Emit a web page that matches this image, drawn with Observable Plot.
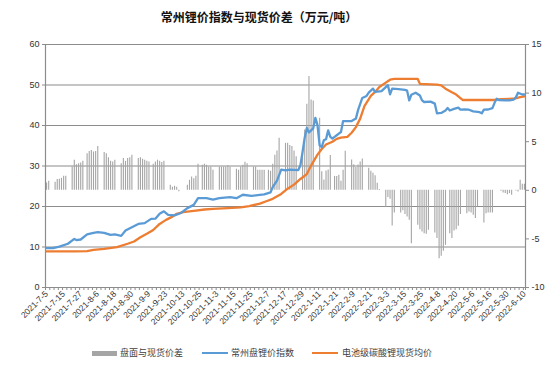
<!DOCTYPE html>
<html>
<head>
<meta charset="utf-8">
<script src="https://cdn.jsdelivr.net/npm/d3@7"></script>
<script src="https://cdn.jsdelivr.net/npm/@observablehq/plot@0.6"></script>
<style>
  html, body { margin: 0; padding: 0; background: #fff; }
  #wrap { position: relative; width: 554px; height: 369px; overflow: hidden; font-family: "Noto Sans CJK SC", sans-serif; }
  #title { position: absolute; top: 8px; left: 0; width: 518px; text-align: center; font-size: 12px; font-weight: bold; color: #111; }
  #chart { position: absolute; top: 30px; left: 0; }
  .lg { position: absolute; font-size: 9px; color: #404040; line-height: 10px; white-space: nowrap; }
  .sw { position: absolute; }
</style>
</head>
<body>
<div id="wrap">
  <div id="title">常州锂价指数与现货价差（万元/吨）</div>
  <div id="chart"></div>
  <div class="sw" style="left:92px; top:351px; width:25px; height:5px; background:#a5a5a5;"></div>
  <div class="lg" style="left:120px; top:348px;">盘面与现货价差</div>
  <div class="sw" style="left:202px; top:352px; width:26px; height:2px; background:#5b9bd5;"></div>
  <div class="lg" style="left:231px; top:348px;">常州盘锂价指数</div>
  <div class="sw" style="left:312px; top:352px; width:26px; height:2px; background:#ed7d31;"></div>
  <div class="lg" style="left:342px; top:348px;">电池级碳酸锂现货均价</div>
</div>
<script>
// X categories (trading days, index 0..224); a label every 8 trading days
const xLabels = ["2021-7-5","2021-7-15","2021-7-27","2021-8-6","2021-8-18","2021-8-30","2021-9-9","2021-9-23","2021-10-13","2021-10-25","2021-11-3","2021-11-15","2021-11-25","2021-12-7","2021-12-17","2021-12-29","2022-1-11","2022-1-21","2022-2-9","2022-2-21","2022-3-3","2022-3-15","2022-3-25","2022-4-8","2022-4-20","2022-5-6","2022-5-16","2022-5-30","2022-6-10"];

// 盘面与现货价差 (right axis, 万元/吨): groups of consecutive trading days
const spreadStart = [0,4,12,19,27,35,43,50,58,66,73,81,89,97,104,112,120,128,135,143,151,159,166,174,182,189,197,205,213,220];
const spreadGroups = [
  [0.75,0.93],
  [0.82,1.1,1.13,1.23,1.44,1.44],
  [2.4,3.1,2.64,2.74,2.8,2.98],
  [3.77,4.0,4.1,3.94,4.0,4.5],
  [3.9,3.77,3.36,3.0,2.9,3.1],
  [2.74,3.26,2.98,3.26,3.36,3.6],
  [3.26,3.36,3.2,3.1,2.98,2.9],
  [2.67,2.9,3.1,3.0,2.85,2.98],
  [0.51,0.31,0.41,0.31,-0.15],
  [0.51,1.03,1.37,1.2,1.44,2.67],
  [2.57,2.67,2.57,2.4,2.4,2.06],
  [2.4,2.4,2.4,2.4,2.54,2.4],
  [2.16,2.06,2.4,2.57,2.88,2.74],
  [2.4,2.4,2.06,2.06,2.06,2.06],
  [2.06,1.95,2.67,3.6,4.05,5.35],
  [4.83,4.83,4.6,4.5,4.05,3.46],
  [4.1,6.2,8.85,11.7,9.3,9.2],
  [7.4,1.92,1.06,1.98,2.1,3.57],
  [1.42,1.42,1.55,0.93,2.05,4.02],
  [3.13,2.63,2.35,2.6,2.9,3.22],
  [2.28,1.95,1.75,1.5,0.72,0.08],
  [-1.78,-0.75,-0.93,-3.67,-2.33],
  [-2.33,-2.1,-2.5,-2.74,-3.09,-5.49],
  [-3.6,-4.05,-4.29,-4.46,-4.53,-4.1],
  [-4.39,-4.97,-7.03,-6.79,-6.28,-5.66],
  [-4.46,-4.97,-4.18,-4.05,-3.7,-2.5],
  [-2.4,-2.23,-2.33,-2.57,-2.91,-1.71],
  [-3.36,-2.4,-2.33,-2.33,-2.33],
  [-0.1,-0.27,-0.34,-0.45,-0.34,-0.51],
  [-0.07,-0.17,1.03,0.62,0.62]
];

// 常州盘锂价指数 (left axis)
const blueIdx = [0,3,6,10,13,14,16,19,22,24,27,30,32,35,37,40,43,46,49,51,53,55,57,60,63,66,69,71,75,78,81,86,89,92,96,99,102,105,106,108,110,112,114,118,119,120,121,122,123,124,125,126,127,128,129,130,131,132,133,134,135,136,137,138,139,143,145,146,148,150,151,153,154,157,158,160,161,162,165,168,169,170,171,173,175,176,177,180,182,183,185,187,188,189,191,193,194,196,198,200,203,204,205,207,209,210,211,212,215,217,219,220,221,223,224];
const blueVal = [9.7,9.7,10.1,10.8,12.0,11.7,11.85,13.1,13.5,13.65,13.5,13.0,13.1,12.75,14.07,14.9,15.7,15.9,16.95,17.0,18.2,18.8,17.95,17.8,18.4,19.6,20.4,22.05,22.05,21.7,22.05,22.3,22.05,22.9,22.6,22.8,23.0,23.5,24.8,26.4,29.1,28.9,29.1,29.0,30.2,33.5,37.0,39.4,38.3,38.8,39.3,41.9,40.1,35.1,34.7,36.4,36.6,38.8,37.2,36.8,37.2,37.6,38.0,38.4,41.1,41.1,41.7,43.8,46.8,47.3,48.1,49.1,48.3,48.5,49.0,49.95,47.7,49.1,49.0,48.8,48.6,46.2,47.6,48.1,47.4,46.2,45.8,45.9,45.4,43.0,43.1,43.7,44.3,43.7,44.1,44.4,43.9,43.95,43.9,43.5,43.3,43.0,43.9,43.95,44.3,45.6,46.6,46.3,46.2,46.2,46.4,47.0,48.1,47.65,47.65];

// 电池级碳酸锂现货均价 (left axis)
const orangeIdx = [0,6,13,19,22,27,33,38,41,44,47,50,53,56,59,61,64,67,70,74,78,85,91,95,100,103,106,110,113,116,119,122,124,127,129,131,134,136,138,141,143,145,147,149,152,154,156,159,161,163,174,175,183,185,187,190,192,195,210,213,219,222,224];
const orangeVal = [8.9,8.9,8.9,8.97,9.3,9.55,9.95,10.8,11.36,12.4,13.25,14.2,15.7,16.7,17.5,18.2,18.6,18.8,19.0,19.26,19.4,19.6,19.8,20.1,20.7,21.3,21.9,23.1,24.4,25.4,26.8,28.0,30.1,32.8,34.2,35.3,36.0,36.7,37.0,37.2,38.2,39.6,41.7,44.8,47.3,48.3,49.5,50.6,51.3,51.5,51.5,50.3,50.1,49.9,49.1,48.2,47.65,46.3,46.3,46.5,46.6,47.0,47.2];

// Tick values
const leftTicks = [0,10,20,30,40,50,60];
const rightTicks = [-10,-5,0,5,10,15];

// Right axis (-10..15) maps onto the left axis (0..60)
const toLeft = v => (v + 10) * 2.4;

const spread = spreadStart.flatMap((s, g) => spreadGroups[g].map((v, k) => ({i: s + k, v})));
const blue = blueIdx.map((i, k) => ({i, v: blueVal[k]}));
const orange = orangeIdx.map((i, k) => ({i, v: orangeVal[k]}));
const labelIdx = xLabels.map((_, k) => k * 8);
const minorIdx = d3.range(0, 113).map(k => k * 2 - 0.5).concat([224.5]);

const axisColor = "#8c8c8c";
const chart = Plot.plot({
  width: 554,
  height: 305,
  marginTop: 14,
  marginBottom: 48,
  marginLeft: 45,
  marginRight: 29,
  style: {fontFamily: "'Liberation Sans', 'DejaVu Sans', sans-serif", fontSize: "9px", background: "white", color: "#333"},
  x: {domain: [-0.5, 224.5], axis: null},
  y: {domain: [0, 60], axis: null},
  marks: [
    Plot.gridY(leftTicks.slice(1), {stroke: axisColor, strokeOpacity: 1, strokeWidth: 1.2}),
    Plot.ruleX(spread, {x: "i", y1: () => toLeft(0), y2: d => toLeft(d.v), stroke: "#a5a5a5", strokeWidth: 1.1}),
    Plot.line(orange, {x: "i", y: "v", stroke: "#ed7d31", strokeWidth: 2.3}),
    Plot.line(blue, {x: "i", y: "v", stroke: "#5b9bd5", strokeWidth: 2.3}),
    Plot.ruleX([-0.5, 224.5], {stroke: axisColor, strokeWidth: 1.2}),
    Plot.ruleY([0], {stroke: axisColor, strokeWidth: 1.2}),
    Plot.axisY({ticks: leftTicks, anchor: "left", label: null, tickSize: 3, tickPadding: 3, stroke: axisColor, fill: "#333"}),
    Plot.axisY({ticks: rightTicks.map(toLeft), anchor: "right", label: null, tickSize: 3, tickPadding: 3, stroke: axisColor, fill: "#333",
      tickFormat: d => String(Math.round(d / 2.4 - 10))}),
    Plot.axisX({ticks: minorIdx, anchor: "bottom", label: null, tickSize: 3, stroke: axisColor, tickFormat: () => ""}),
    Plot.axisX({ticks: labelIdx, anchor: "bottom", label: null, tickSize: 0, tickPadding: 5, tickRotate: -45, fill: "#333", fontSize: 8.5,
      tickFormat: i => xLabels[Math.round(i / 8)]})
  ]
});
document.getElementById("chart").appendChild(chart);
</script>
</body>
</html>
